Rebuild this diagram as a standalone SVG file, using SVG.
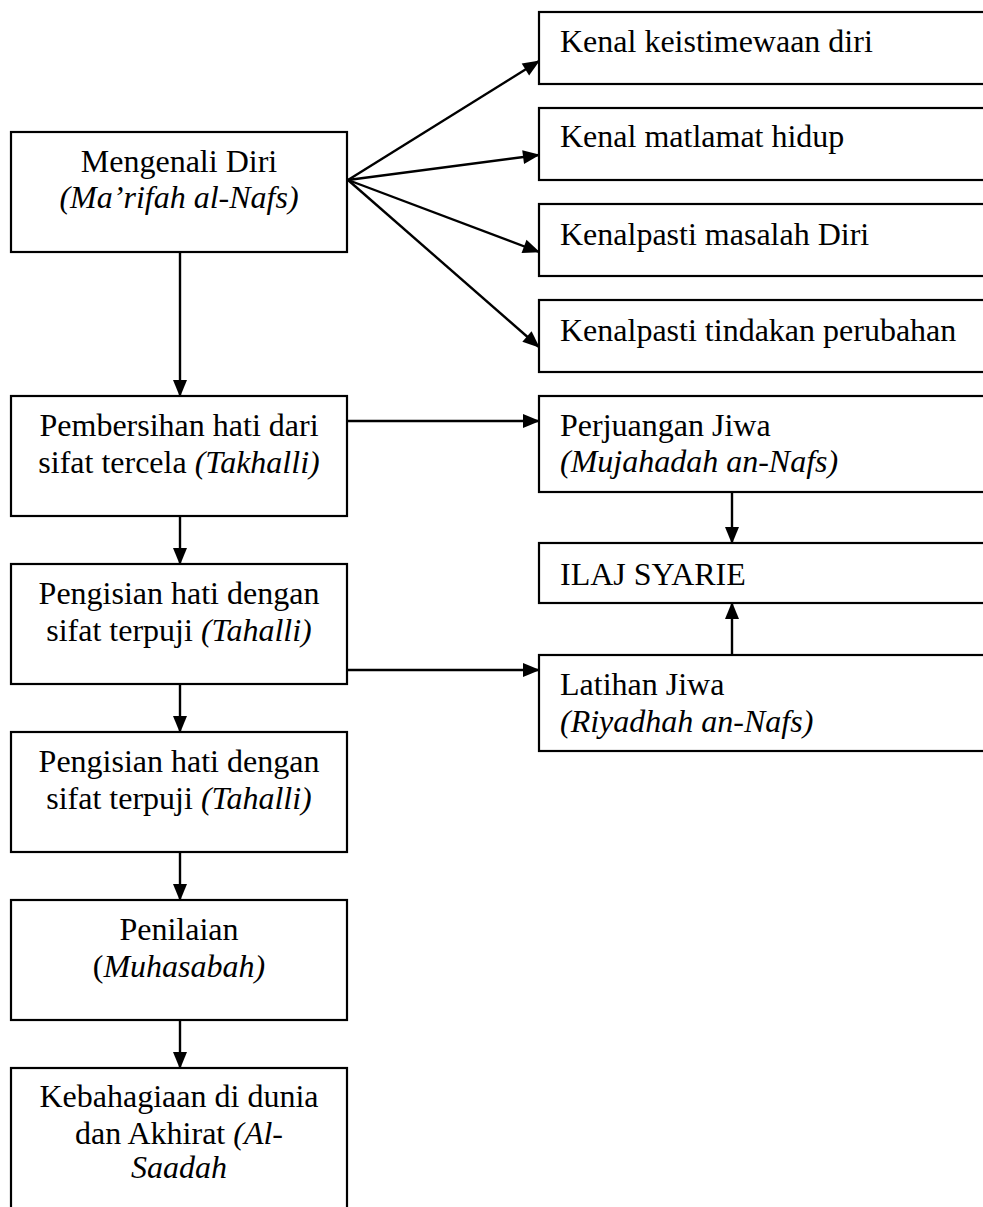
<svg xmlns="http://www.w3.org/2000/svg" width="983" height="1207" viewBox="0 0 983 1207">
<defs>
<style>
.box{fill:#fff;stroke:#000;stroke-width:2.2}
.ln{fill:none;stroke:#000;stroke-width:2.4;marker-end:url(#ah)}
text{font-family:"Liberation Serif","Times New Roman",serif;font-size:32px;fill:#000}
.c{text-anchor:middle}
.i{font-style:italic}
</style>
<marker id="ah" markerUnits="userSpaceOnUse" markerWidth="18" markerHeight="16" refX="16" refY="7" orient="auto" overflow="visible">
<path d="M0,0 L17,7 L0,14 z" fill="#000"/>
</marker>
</defs>
<rect width="983" height="1207" fill="#fff"/>
<g id="connectors">
<line class="ln" x1="180" y1="252" x2="180" y2="396"/>
<line class="ln" x1="180" y1="516" x2="180" y2="564"/>
<line class="ln" x1="180" y1="684" x2="180" y2="732"/>
<line class="ln" x1="180" y1="852" x2="180" y2="900"/>
<line class="ln" x1="180" y1="1020" x2="180" y2="1068"/>
<line class="ln" x1="348" y1="180" x2="539" y2="61"/>
<line class="ln" x1="348" y1="180" x2="539" y2="155"/>
<line class="ln" x1="348" y1="180" x2="539" y2="252"/>
<line class="ln" x1="348" y1="180" x2="539" y2="347"/>
<line class="ln" x1="347" y1="421" x2="539" y2="421"/>
<line class="ln" x1="347" y1="670" x2="539" y2="670"/>
<line class="ln" x1="732" y1="492" x2="732" y2="543"/>
<line class="ln" x1="732" y1="655" x2="732" y2="603"/>
</g>
<g id="n1"><rect class="box" x="11" y="132" width="336" height="120"/>
<text class="c" x="179" y="172">Mengenali Diri</text>
<text class="c i" x="179" y="208">(Ma’rifah al-Nafs)</text></g>
<g id="n2"><rect class="box" x="11" y="396" width="336" height="120"/>
<text class="c" x="179" y="436">Pembersihan hati dari</text>
<text class="c" x="179" y="473">sifat tercela <tspan class="i">(Takhalli)</tspan></text></g>
<g id="n3"><rect class="box" x="11" y="564" width="336" height="120"/>
<text class="c" x="179" y="604">Pengisian hati dengan</text>
<text class="c" x="179" y="641">sifat terpuji <tspan class="i">(Tahalli)</tspan></text></g>
<g id="n4"><rect class="box" x="11" y="732" width="336" height="120"/>
<text class="c" x="179" y="772">Pengisian hati dengan</text>
<text class="c" x="179" y="809">sifat terpuji <tspan class="i">(Tahalli)</tspan></text></g>
<g id="n5"><rect class="box" x="11" y="900" width="336" height="120"/>
<text class="c" x="179" y="940">Penilaian</text>
<text class="c" x="179" y="977">(<tspan class="i">Muhasabah)</tspan></text></g>
<g id="n6"><rect class="box" x="11" y="1068" width="336" height="160"/>
<text class="c" x="179" y="1107">Kebahagiaan di dunia</text>
<text class="c" x="179" y="1144">dan Akhirat <tspan class="i">(Al-</tspan></text>
<text class="c i" x="179" y="1178">Saadah</text></g>
<g id="r1"><rect class="box" x="539" y="12" width="460" height="72"/>
<text x="560" y="52">Kenal keistimewaan diri</text></g>
<g id="r2"><rect class="box" x="539" y="108" width="460" height="72"/>
<text x="560" y="147">Kenal matlamat hidup</text></g>
<g id="r3"><rect class="box" x="539" y="204" width="460" height="72"/>
<text x="560" y="245">Kenalpasti masalah Diri</text></g>
<g id="r4"><rect class="box" x="539" y="300" width="460" height="72"/>
<text x="560" y="341">Kenalpasti tindakan perubahan</text></g>
<g id="r5"><rect class="box" x="539" y="396" width="460" height="96"/>
<text x="560" y="436">Perjuangan Jiwa</text>
<text class="i" x="560" y="472">(Mujahadah an-Nafs)</text></g>
<g id="r6"><rect class="box" x="539" y="543" width="460" height="60"/>
<text x="560" y="585">ILAJ SYARIE</text></g>
<g id="r7"><rect class="box" x="539" y="655" width="460" height="96"/>
<text x="560" y="695">Latihan Jiwa</text>
<text class="i" x="560" y="732">(Riyadhah an-Nafs)</text></g>
</svg>
